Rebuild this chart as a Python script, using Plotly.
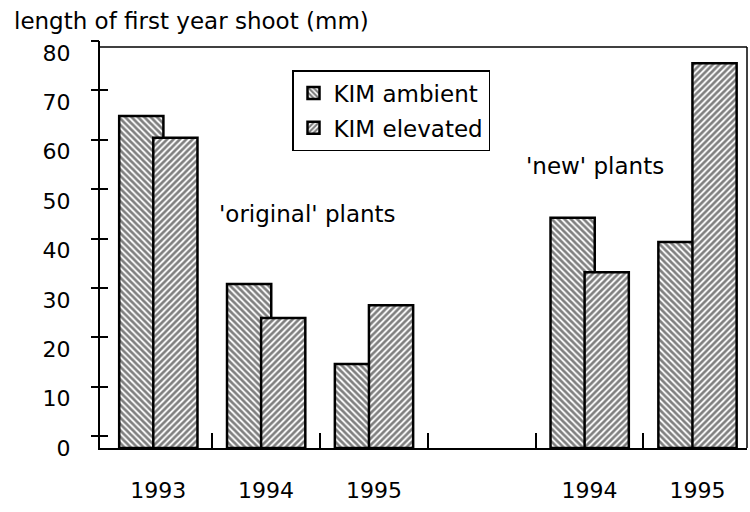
import plotly.graph_objects as go

# Shoot length by year; the empty slot separates the two plant cohorts
positions = [0, 1, 2, 3, 4, 5]
year_labels = ["1993", "1994", "1995", "", "1994", "1995"]
ambient = [67.2, 33.2, 17.0, None, 46.6, 41.7]
elevated = [62.8, 26.3, 28.9, None, 35.6, 77.9]
y_ticks = [0, 10, 20, 30, 40, 50, 60, 70, 80]

Y_TOP = 82.4          # value scale shown by the tick labels
TICK_SHIFT = 2.4      # tick marks sit a little above their labels
FRAME_TOP = 81.2
X_RANGE = [-0.54, 5.46]
BAR_W = 0.41
FONT = "DejaVu Sans"

hatch = dict(fgcolor="black", bgcolor="white", size=4.5, solidity=0.6)

fig = go.Figure()
fig.add_trace(go.Bar(
    x=positions, y=ambient, name="KIM ambient",
    width=BAR_W, offset=-0.362, legendgroup="a",
    marker=dict(color="white", line=dict(color="black", width=2.5),
                pattern=dict(shape="\\", **hatch)),
))
fig.add_trace(go.Bar(
    x=positions, y=elevated, name="KIM elevated",
    width=BAR_W, offset=-0.046, legendgroup="b",
    marker=dict(color="white", line=dict(color="black", width=2.5),
                pattern=dict(shape="/", **hatch)),
))

tick_axis = dict(
    range=[-TICK_SHIFT, Y_TOP - TICK_SHIFT], overlaying="y", side="left",
    showgrid=False, zeroline=False, showline=False,
    tickmode="array", tickvals=y_ticks, showticklabels=False,
    ticklen=8, tickwidth=1.5, tickcolor="black", fixedrange=True,
)

fig.update_layout(
    width=750, height=512,
    margin=dict(l=100, r=3, t=41, b=64),
    paper_bgcolor="white", plot_bgcolor="white",
    barmode="overlay",
    font=dict(family=FONT, size=22, color="black"),
    showlegend=True,
    legend=dict(
        x=(292 - 100) / 647, y=(448 - 70) / 407,
        xanchor="left", yanchor="top",
        bordercolor="black", borderwidth=1.5, bgcolor="white",
        font=dict(family=FONT, size=23, color="black"),
        traceorder="grouped", tracegroupgap=2,
    ),
    xaxis=dict(
        range=X_RANGE, showgrid=False, zeroline=False,
        showline=True, linecolor="black", linewidth=2,
        tickmode="array", tickvals=positions, ticktext=year_labels,
        ticks="", ticklabelstandoff=22,
        tickfont=dict(family=FONT, size=22, color="black"),
        minor=dict(tickmode="array", tickvals=[0.5, 1.5, 2.5, 3.5, 4.5],
                   ticks="inside", ticklen=15, tickwidth=1.5,
                   tickcolor="black", showgrid=False),
    ),
    yaxis=dict(
        range=[0, Y_TOP], showgrid=False, zeroline=False,
        showline=True, linecolor="black", linewidth=2,
        tickmode="array", tickvals=y_ticks, ticks="",
        ticklabelstandoff=23,
        tickfont=dict(family=FONT, size=22, color="black"),
    ),
    yaxis2=dict(ticks="outside", **tick_axis),
    yaxis3=dict(ticks="inside", **tick_axis),
    shapes=[
        dict(type="line", xref="paper", yref="y", x0=0, x1=1,
             y0=FRAME_TOP, y1=FRAME_TOP, line=dict(color="black", width=1.5)),
        dict(type="line", xref="paper", yref="y", x0=1, x1=1,
             y0=0, y1=FRAME_TOP, line=dict(color="black", width=1.5)),
    ],
    annotations=[
        dict(text="length of first year shoot (mm)", xref="paper", yref="paper",
             x=(12 - 100) / 647, y=(448 - 21) / 407, xanchor="left",
             yanchor="middle", showarrow=False,
             font=dict(family=FONT, size=23, color="black")),
        dict(text="'original' plants", xref="paper", yref="paper",
             x=(217 - 100) / 647, y=(448 - 214) / 407, xanchor="left",
             yanchor="middle", showarrow=False,
             font=dict(family=FONT, size=23, color="black")),
        dict(text="'new' plants", xref="paper", yref="paper",
             x=(524 - 100) / 647, y=(448 - 166) / 407, xanchor="left",
             yanchor="middle", showarrow=False,
             font=dict(family=FONT, size=23, color="black")),
    ],
)

# empty traces so the tick-mark axes are rendered
for ax in ("y2", "y3"):
    fig.add_trace(go.Scatter(x=[None], y=[None], yaxis=ax, showlegend=False,
                             hoverinfo="skip"))

fig.write_html("out.html")
